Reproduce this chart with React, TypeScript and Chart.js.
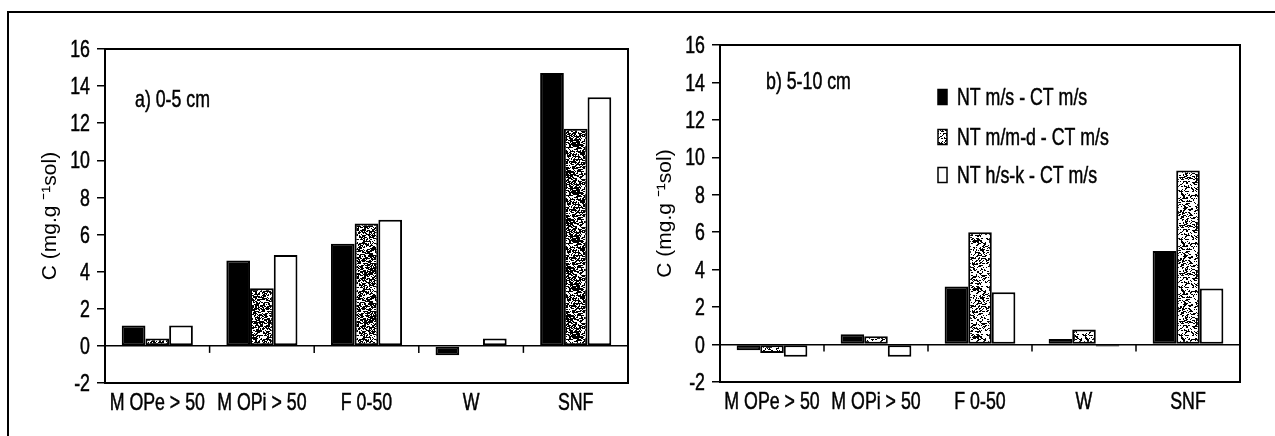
import React, { useEffect, useRef } from 'react';
import { Chart, registerables } from 'chart.js';

Chart.register(...registerables);

// ---------- data ----------
const categories = ['M OPe > 50', 'M OPi > 50', 'F 0-50', 'W', 'SNF'];
const seriesLabels = ['NT m/s - CT m/s', 'NT m/m-d - CT m/s', 'NT h/s-k - CT m/s'];

const a_NTms = [1.1, 4.6, 5.5, -0.5, 14.7];
const a_NTmmd = [0.4, 3.1, 6.6, 0, 11.7];
const a_NThsk = [1.1, 4.9, 6.8, 0.4, 13.4];

const b_NTms = [-0.3, 0.55, 3.1, 0.3, 5.0];
const b_NTmmd = [-0.45, 0.45, 6.0, 0.8, 9.3];
const b_NThsk = [-0.65, -0.65, 2.8, -0.1, 3.0];

const yMin = -2;
const yMax = 16;
const yStep = 2;

const panelTitles = ['a) 0-5 cm', 'b) 5-10 cm'];
const yAxisTitle = 'C (mg.g \u207B\u00B9sol)';

// ---------- style ----------
const REGULAR = "'Liberation Sans', Arial, Helvetica, sans-serif";
const SX = 0.74; // horizontal condensing to mimic a narrow face
const TXT = 24;

function makePattern(density: number): CanvasPattern | string {
  const c = document.createElement('canvas');
  const n = 48;
  c.width = n;
  c.height = n;
  const ctx = c.getContext('2d');
  if (!ctx) return '#888';
  ctx.fillStyle = '#fff';
  ctx.fillRect(0, 0, n, n);
  ctx.fillStyle = '#000';
  const hash = (a: number, b: number) => {
    let h = (a * 374761393 + b * 668265263) | 0;
    h = Math.imul(h ^ (h >>> 13), 1274126177);
    h = h ^ (h >>> 16);
    return ((h >>> 0) % 1000) / 1000;
  };
  for (let y = 0; y < n; y++) {
    for (let x = 0; x < n; x++) {
      if (hash(x, y) < density) ctx.fillRect(x, y, hash(y, x) < 0.4 ? 2 : 1, 1);
    }
  }
  return ctx.createPattern(c, 'repeat') || '#888';
}

function narrowText(
  ctx: CanvasRenderingContext2D,
  text: string,
  x: number,
  y: number,
  align: 'left' | 'right' | 'center',
  size: number
) {
  ctx.save();
  ctx.font = `${size}px ${REGULAR}`;
  ctx.textBaseline = 'middle';
  ctx.textAlign = 'left';
  const w = ctx.measureText(text).width * SX;
  const x0 = align === 'left' ? x : align === 'right' ? x - w : x - w / 2;
  ctx.translate(x0, y);
  ctx.scale(SX, 1);
  ctx.fillStyle = '#000';
  ctx.strokeStyle = '#000';
  ctx.lineWidth = 0.5;
  ctx.fillText(text, 0, 0);
  ctx.strokeText(text, 0, 0);
  ctx.restore();
}

type PanelCfg = {
  values: number[][];
  width: number;
  height: number;
  area: { left: number; right: number; top: number; bottom: number };
  titlePad: number;
  panel: string;
  panelOffset: { dx: number; yValue: number };
  legend: boolean;
  density: number;
};

function buildChart(canvas: HTMLCanvasElement, cfg: PanelCfg) {
  const pattern = makePattern(cfg.density);
  const fills = ['#000', pattern, '#fff'];

  const framePlugin = {
    id: 'frame',
    afterDatasetsDraw(chart: any) {
      const ctx = chart.ctx as CanvasRenderingContext2D;
      const ca = chart.chartArea;
      const xs = chart.scales.x;
      const ys = chart.scales.y;
      ctx.save();
      ctx.strokeStyle = '#000';
      ctx.lineWidth = 2;
      ctx.strokeRect(ca.left, ca.top, ca.right - ca.left, ca.bottom - ca.top);
      // category separator ticks on the zero line
      const y0 = ys.getPixelForValue(0);
      ctx.lineWidth = 1.5;
      for (let i = 0; i < categories.length - 1; i++) {
        const xb = (xs.getPixelForValue(i) + xs.getPixelForValue(i + 1)) / 2;
        ctx.beginPath();
        ctx.moveTo(xb, y0);
        ctx.lineTo(xb, y0 + 7);
        ctx.stroke();
      }
      ctx.restore();

      // y tick labels
      ys.ticks.forEach((t: any) => {
        narrowText(ctx, String(t.value), ca.left - 15, ys.getPixelForValue(t.value) + 1.5, 'right', TXT);
      });
      // x category labels
      chart.data.labels.forEach((lab: string, i: number) => {
        narrowText(ctx, lab, xs.getPixelForValue(i), ca.bottom + 20, 'center', TXT);
      });
      // panel title
      narrowText(ctx, cfg.panel, ca.left + cfg.panelOffset.dx, ys.getPixelForValue(cfg.panelOffset.yValue), 'left', TXT);
      // legend
      if (cfg.legend) {
        const bx = ca.left + 218;
        const rows = [52, 92, 130];
        chart.data.datasets.forEach((ds: any, i: number) => {
          const cy = ca.top + rows[i];
          ctx.save();
          ctx.fillStyle = fills[i] as any;
          ctx.fillRect(bx, cy - 7.5, 9, 15);
          ctx.lineWidth = 1.5;
          ctx.strokeStyle = '#000';
          ctx.strokeRect(bx, cy - 7.5, 9, 15);
          ctx.restore();
          narrowText(ctx, ds.label, bx + 19, cy + 1, 'left', TXT);
        });
      }
    },
  };

  return new Chart(canvas, {
    type: 'bar',
    data: {
      labels: categories,
      datasets: cfg.values.map((v, i) => ({
        label: seriesLabels[i],
        data: v,
        backgroundColor: fills[i] as any,
        borderColor: '#000',
        borderWidth: 2,
        borderSkipped: false,
        categoryPercentage: 0.68,
        barPercentage: 1,
      })),
    },
    options: {
      animation: false,
      responsive: false,
      maintainAspectRatio: false,
      layout: {
        padding: { left: 0, right: cfg.width - cfg.area.right, top: cfg.area.top, bottom: 0 },
      },
      plugins: { legend: { display: false }, tooltip: { enabled: false } },
      scales: {
        x: {
          grid: { display: false, drawTicks: false },
          border: { display: false },
          ticks: { display: false },
          afterFit: (s: any) => {
            s.height = cfg.height - cfg.area.bottom;
          },
        },
        y: {
          min: yMin,
          max: yMax,
          ticks: { stepSize: yStep, display: false },
          grid: {
            color: (c: any) => (c.tick && c.tick.value === 0 ? '#000' : 'rgba(0,0,0,0)'),
            tickColor: '#000',
            tickLength: 8,
            lineWidth: 1.5,
          },
          border: { display: true, color: '#000', width: 2 },
          title: {
            display: true,
            text: yAxisTitle,
            color: '#000',
            font: { family: REGULAR, size: 21 },
            padding: { top: cfg.titlePad, bottom: 0 },
          },
          afterFit: (s: any) => {
            s.width = cfg.area.left;
          },
        },
      },
    },
    plugins: [framePlugin],
  } as any);
}

function Panel({ cfg, left }: { cfg: PanelCfg; left: number }) {
  const ref = useRef<HTMLCanvasElement>(null);
  useEffect(() => {
    if (!ref.current) return;
    const chart = buildChart(ref.current, cfg);
    return () => chart.destroy();
  }, []);
  return (
    <canvas
      ref={ref}
      width={cfg.width}
      height={cfg.height}
      style={{ position: 'absolute', left, top: 0, width: cfg.width, height: cfg.height }}
    />
  );
}

const leftCfg: PanelCfg = {
  values: [a_NTms, a_NTmmd, a_NThsk],
  width: 640,
  height: 436,
  area: { left: 105, right: 628, top: 49, bottom: 383 },
  titlePad: 38,
  panel: panelTitles[0],
  panelOffset: { dx: 30, yValue: 13.25 },
  legend: false,
  density: 0.5,
};

const rightCfg: PanelCfg = {
  values: [b_NTms, b_NTmmd, b_NThsk],
  width: 635,
  height: 436,
  area: { left: 80, right: 600, top: 45, bottom: 382 },
  titlePad: 13,
  panel: panelTitles[1],
  panelOffset: { dx: 46, yValue: 14.0 },
  legend: true,
  density: 0.28,
};

export default function App() {
  return (
    <div
      style={{
        position: 'fixed',
        left: 0,
        top: 0,
        width: 1275,
        height: 436,
        background: '#fff',
        overflow: 'hidden',
      }}
    >
      <div
        style={{
          position: 'absolute',
          left: 7,
          top: 11,
          width: 1300,
          height: 500,
          borderTop: '2px solid #000',
          borderLeft: '2px solid #000',
        }}
      />
      <Panel cfg={leftCfg} left={0} />
      <Panel cfg={rightCfg} left={640} />
    </div>
  );
}
